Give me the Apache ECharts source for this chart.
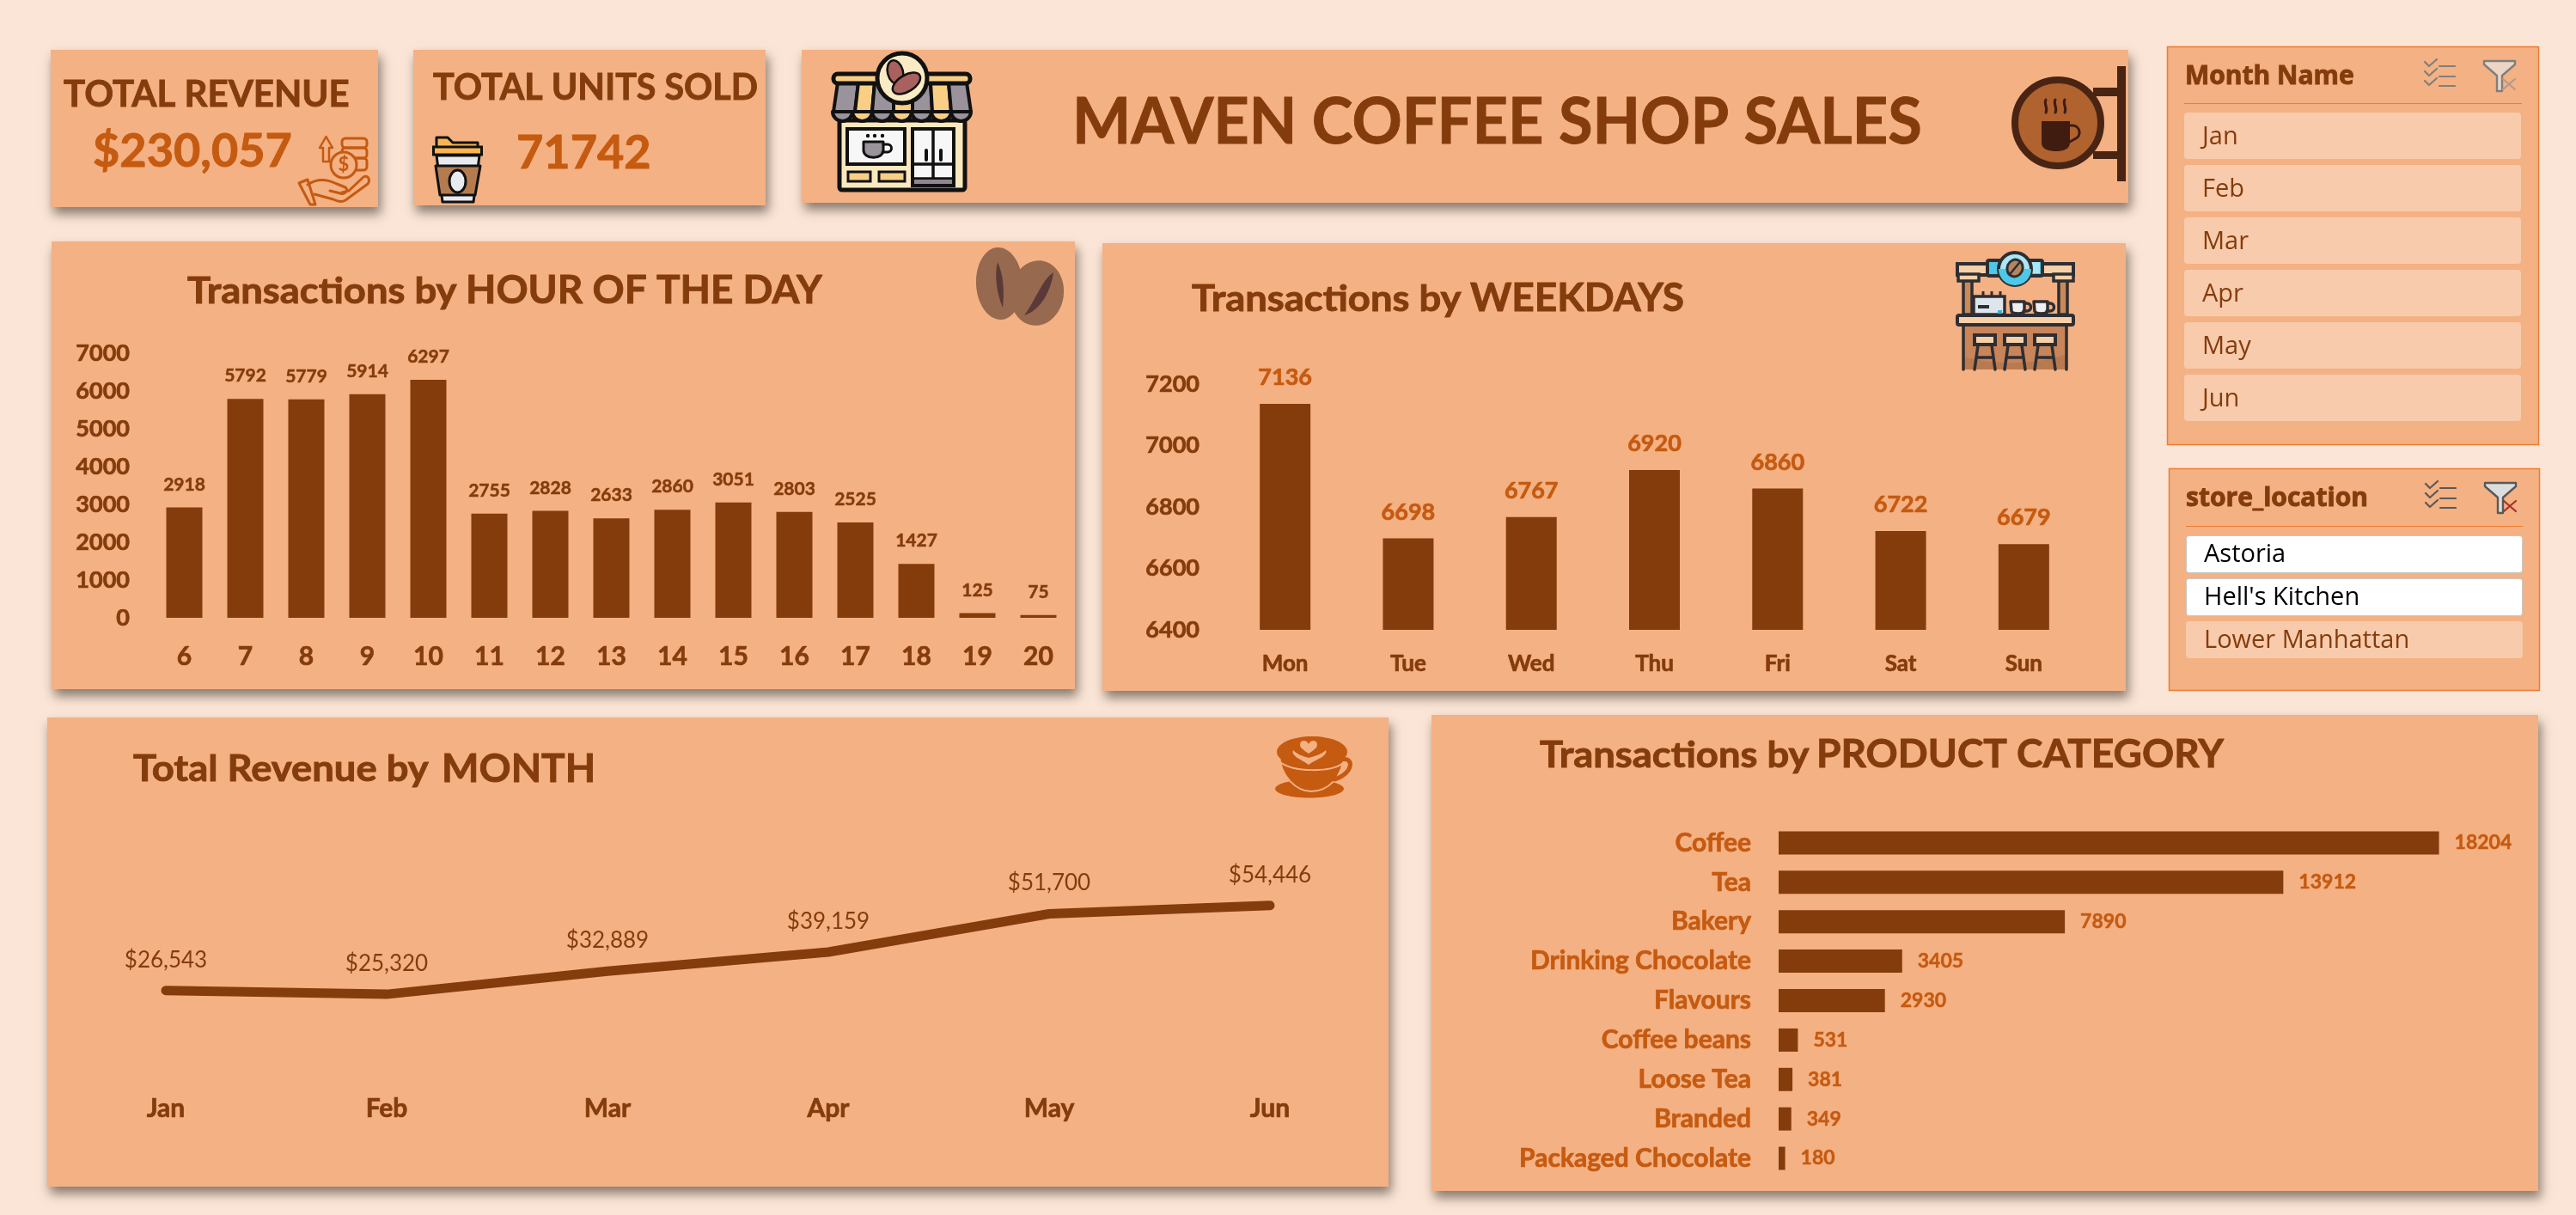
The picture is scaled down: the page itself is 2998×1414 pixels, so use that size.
<!DOCTYPE html>
<html><head><meta charset="utf-8">
<style>html,body{margin:0;padding:0;background:#FBE5D6}#c{width:2998px;height:1414px}</style>
<script src="https://cdn.jsdelivr.net/npm/echarts@6/dist/echarts.min.js"></script>
</head><body><div id="c"></div>
<script>
const hours=['6','7','8','9','10','11','12','13','14','15','16','17','18','19','20'];
const hourTx=[2918,5792,5779,5914,6297,2755,2828,2633,2860,3051,2803,2525,1427,125,75];
const weekdays=['Mon','Tue','Wed','Thu','Fri','Sat','Sun'];
const weekdayTx=[7136,6698,6767,6920,6860,6722,6679];
const months=['Jan','Feb','Mar','Apr','May','Jun'];
const monthRevenue=[26543,25320,32889,39159,51700,54446];
const products=['Coffee','Tea','Bakery','Drinking Chocolate','Flavours','Coffee beans','Loose Tea','Branded','Packaged Chocolate'];
const productTx=[18204,13912,7890,3405,2930,531,381,349,180];
const stores=['Astoria',"Hell's Kitchen",'Lower Manhattan'];
const storesSelected=[true,true,false];
const totalRevenue='$230,057';
const totalUnits='71742';

const BR='#843C0C',OR='#C55A11',PAN='#F4B183',F='Lato';
const g=[];
let pid=0;
function panel(x,y,w,h){g.push({type:'rect',z:0,shape:{x,y,width:w,height:h},style:{fill:PAN,shadowBlur:12,shadowColor:'rgba(60,50,40,0.6)',shadowOffsetX:3,shadowOffsetY:8}});}
function rect(x,y,w,h,fill,stroke,lw,r){g.push({type:'rect',z:1,shape:{x,y,width:w,height:h,r:r||0},style:{fill:fill||'none',stroke:stroke||'none',lineWidth:lw||0}});}
function p(d,fill,stroke,lw){const n='icon'+(pid++);echarts.graphic.registerShape(n,echarts.graphic.extendPath(d));g.push({type:n,z:1,style:{fill:fill||'none',stroke:stroke||'none',lineWidth:lw||0,lineJoin:'round',lineCap:'round'}});}
function circ(cx,cy,r,fill,stroke,lw){g.push({type:'circle',z:1,shape:{cx,cy,r},style:{fill:fill||'none',stroke:stroke||'none',lineWidth:lw||0}});}
function ell(cx,cy,rx,ry,rot,fill,stroke,lw){g.push({type:'ellipse',z:1,x:cx,y:cy,rotation:rot||0,shape:{cx:0,cy:0,rx,ry},style:{fill:fill||'none',stroke:stroke||'none',lineWidth:lw||0}});}
function txt(t,x,y,size,color,weight,font,align,sx){const w=weight||'bold';const st={text:t,fontFamily:font||F,fontSize:size,fontWeight:w,fill:color,textAlign:align||'left',textVerticalAlign:'middle'};if(w==='bold'&&size>=30){st.stroke=color;st.lineWidth=.9;}g.push({type:'text',z:2,x,y,scaleX:sx||1,style:st});}

// panels
panel(59,58,381,183);panel(481,58,410,181);panel(933,58,1544,178);
panel(60,281,1191,521);panel(1283,283,1191,521);panel(55,835,1561,546);panel(1666,832,1288,554);

// text
txt('TOTAL REVENUE',74,110,42,BR);
txt('TOTAL UNITS SOLD',504,102,42,BR,'bold',F,'left',.98);
txt(totalRevenue,108,177,54,OR);
txt(totalUnits,601,179,54,OR);
txt('MAVEN COFFEE SHOP SALES',1248,143,74,BR,'bold',F,'left',.975);
const S1=1.08;
txt('Transactions by',218,339,42,BR,'bold',F,'left',S1);txt('HOUR OF THE DAY',542,338,46,BR);
txt('Transactions by',1387,348,42,BR,'bold',F,'left',S1);txt('WEEKDAYS',1711,347,46,BR);
txt('Total Revenue by',155,895,42,BR,'bold',F,'left',S1);txt('MONTH',514,895,46,BR);
txt('Transactions by',1792,879,42,BR,'bold',F,'left',S1);txt('PRODUCT CATEGORY',2114,878,46,BR);

// slicers
function slicerIcons(dx,dy,c,fn,xc){
  [77,89,100].forEach(y=>p(`M${2839+dx},${y+dy}H${2857+dx}`,null,c,2.2));
  [72,83,94].forEach(y=>p(`M${2822+dx},${y+dy}l5,5l9,-8`,null,c,2.2));
  p(`M${2891+dx},${71+dy}H${2927+dx}V${75+dy}L${2912+dx},${88+dy}V${106+dy}H${2906+dx}V${88+dy}L${2891+dx},${75+dy}Z`,fn,c,2.4);
  p(`M${2913+dx},${92+dy}L${2927+dx},${104+dy}M${2927+dx},${92+dy}L${2913+dx},${104+dy}`,null,xc,2.2);
}
g.push({type:'rect',z:0,shape:{x:2522.5,y:54.5,width:432,height:463},style:{fill:PAN,stroke:'#ED7D31',lineWidth:1.5}});
txt('Month Name',2543,89,30,BR,'bold','Open Sans');
slicerIcons(0,0,'#7F7F7F','#EDD5C6','#B49A8C');
rect(2542,120,393,1,'#ED7D31');
const my=[131,192,253,314,375,436];
months.forEach((m,i)=>{rect(2542,my[i],392,54,'#F8CBAD',null,0,4);txt(m,2563,my[i]+29,29,BR,'normal','Open Sans');});
g.push({type:'rect',z:0,shape:{x:2524.5,y:545.5,width:431,height:258},style:{fill:PAN,stroke:'#ED7D31',lineWidth:1.5}});
txt('store_location',2544,580,30,BR,'bold','Open Sans');
slicerIcons(1,491,'#595959','#DDDDDD','#A5302C');
rect(2544,612,392,1,'#ED7D31');
const sy=[623,673,723];
stores.forEach((s,i)=>{
  if(storesSelected[i]){rect(2544.5,sy[i]+.5,391,43,'#FFFFFF','#C8C8C8',1,3);txt(s,2565,sy[i]+23,29,'#000000','normal','Open Sans');}
  else{rect(2544,sy[i],392,43,'#F8CBAD',null,0,4);txt(s,2565,sy[i]+23,29,BR,'normal','Open Sans');}
});

// icon: hand with coins
const hs=3;
p('M376,188V172H372L379.5,159L387,172H383V188Z',null,OR,hs-0.5);
rect(398,161,29,11,null,OR,hs,4);rect(398,172,29,12,null,OR,hs,4);rect(398,184,29,14,null,OR,hs,4);
circ(400,192,15,PAN,OR,hs);txt('$',400,192,22,OR,'bold',F,'center');
p('M348,213L358,209L367,238L361,238Z',null,OR,hs);
p('M358,215C368,208 380,208 392,214L402,218C406,221 402,227 396,225L384,222M398,224L406,222L423,206C429,203 431,210 428,214L402,233C397,236 392,234 388,232L366,226',null,OR,hs);

// icon: cup
const K='#111';
p('M508,172V160H521L527,166H556V172Z','#FBB54E',K,3);
rect(504.5,171,56,9,'#FBB54E',K,3);
p('M508,181H558L551,235H515Z','#E7EBEF',K,3);
p('M507,193H559L553,227H512Z','#B47C4E',K,3);
ell(532.5,211,9.5,13,0,'#E7EBEF',K,3);

// icon: store
rect(977,140,146,81,'#FBE8BE',K,5,3);
rect(986,150,67,41,'#F7F7F7',K,4);
rect(1062,150,48,66,'#F7F7F7',K,4);
p('M1086,150V208M1062,191H1110M1062,208H1110',null,K,3.5);
rect(1064,209,44,5,'#8F878F');
p('M1005,165h23v10a11,8 0 0 1 -23,0z','#9B939B',K,3);
p('M1028,168h5a4,4 0 0 1 0,9h-6',null,K,3);
[1010,1018,1027].forEach(x=>circ(x,158,2.2,K));
rect(987,200,26,11,'#F9CF85',K,3);rect(1023,200,30,11,'#F9CF85',K,3);
p('M1078,175V186M1095,175V186',null,K,4);
p('M975,96H999L995,130H970Z','#9B939B',K,4);
p('M999,96H1018L1015,130H995Z','#F9CF85',K,4);
p('M1018,96H1040V130H1015Z','#9B939B',K,4);
p('M1040,96H1062V130H1040Z','#F9CF85',K,4);
p('M1062,96H1083L1085,130H1062Z','#9B939B',K,4);
p('M1083,96H1104L1107,130H1085Z','#F9CF85',K,4);
p('M1104,96H1125L1130,130H1107Z','#9B939B',K,4);
[0,1,2,3,4,5,6].forEach(i=>{
  p(`M${969+i*23},130a11.5,11 0 0 0 23,0z`,i%2?'#F9CF85':'#9B939B',K,4);
});
rect(970,86,159,11,'#F9CF85',K,5,5);
circ(1050,91,29,'#FBEBC4',K,5);
ell(1042,84,9,14,0.25,'#A8615F',K,2.5);ell(1055,97,18,9.5,0.55,'#A8615F',K,2.5);

// icon: sign
rect(2464,77,10,134,'#4A2413');
rect(2436,102,30,10,'#4A2413');rect(2436,176,30,9,'#4A2413');
circ(2395,143,50,'#B0622F','#4A2413',8);
p('M2376,141H2409V166C2409,174 2400,176 2393,176C2385,176 2376,174 2376,166Z','#401C10');
p('M2409,146h3a8,8 0 0 1 4,15l-7,4',null,'#401C10',3);
['M2381,116c-3,5 3,9 0,15','M2392,116c-3,5 3,9 0,15','M2403,116c-3,5 3,9 0,15'].forEach(d=>p(d,null,'#401C10',3));

// icon: beans
ell(1163,330,27,42,0.05,'#97694F');
p('M1161,305C1157,320 1160,342 1167,358C1169,340 1168,320 1161,305Z','#5A3A38');
ell(1207,341,31,38,-0.15,'#97694F');
p('M1226,317C1213,325 1205,350 1192,367C1210,362 1223,340 1226,317Z','#5A3A38');

// icon: stall
const D='#2E2E33',CR='#F6D0A8';
rect(2285,379,120,51,'#C98559');
p('M2285,415C2320,425 2370,425 2405,412V430H2285Z','#BA7A50');
rect(2285,326,10,40,'#C98A5A',D,3.5);rect(2396,326,10,40,'#C98A5A',D,3.5);
rect(2278,307,135,13,CR,D,4);
rect(2279,319,24,8,CR,D,3.5);rect(2390,319,23,8,CR,D,3.5);
rect(2313,303,64,18,'#4CC9E8',D,4,2);
rect(2350,305,24,13,'#A9E7F5');
circ(2345,313,19,'#A9E7F5',D,4);
p('M2326,313A19,19 0 0 0 2364,313Z','#4CC9E8');
ell(2345,312,9,10,-0.4,'#B58560',D,3);
p('M2350,306L2340,318',null,D,2.5);
rect(2297,345,36,21,'#DDE6EC',D,3.5);
[2308,2318,2328].forEach(x=>rect(x-1.5,339,3,6,D));
rect(2302,355,13,4,D);rect(2325,361,5,5,'#34B6DD');
p('M2340,351H2356V362C2356,366 2342,366 2341,362Z','#EDEFF1',D,3.5);
p('M2356,353h3a4,4 0 0 1 0,9h-4',null,D,3.5);
p('M2367,351H2383V362C2383,366 2369,366 2368,362Z','#EDEFF1',D,3.5);
p('M2383,353h3a4,4 0 0 1 0,9h-4',null,D,3.5);
rect(2278,367,135,11,CR,D,4,2);
p('M2285,379V430M2405,379V430',null,D,3.5);
[2310,2345,2380].forEach(x=>{
  rect(x-12,390,24,11,CR,D,4);
  p(`M${x-8},402L${x-12},430M${x+8},402L${x+12},430M${x-9},416H${x+9}`,null,D,3.5);
});

// icon: latte
ell(1524,918,40,10.5,0,OR);
p('M1489,878C1490,905 1510,921 1526,921C1545,921 1563,905 1564,878Z',OR,PAN,2);
p('M1561,884C1576,880 1576,900 1553,907',null,OR,5);
ell(1527,875,41,18,0,OR);
p('M1490,887C1505,899 1550,899 1563,888',null,PAN,2);
p('M1523,866C1520,859 1510,862 1514,870C1517,873 1520,875 1523,877C1526,875 1529,873 1532,870C1536,862 1526,859 1523,866Z',PAN);
p('M1505,873C1502,880 1515,884 1523,890C1531,884 1546,880 1543,873C1538,878 1530,880 1523,882C1516,880 1510,878 1505,873Z',PAN);

const axLabel=(size,color,extra)=>Object.assign({fontFamily:F,fontSize:size,fontWeight:'bold',color,textBorderColor:color,textBorderWidth:.7},extra||{});
const none={show:false};
const plain=v=>String(v);
const option={
  animation:false,
  backgroundColor:'#FBE5D6',
  graphic:{elements:g},
  grid:[
    {left:179,top:411,width:1065,height:308},
    {left:1424,top:447,width:1003,height:286},
    {left:64.5,top:1034,width:1542,height:213},
    {left:2070,top:958,width:844.4,height:413}
  ],
  xAxis:[
    {gridIndex:0,type:'category',data:hours,axisLine:none,axisTick:none,axisLabel:axLabel(30,BR,{interval:0,margin:30})},
    {gridIndex:1,type:'category',data:weekdays,axisLine:none,axisTick:none,axisLabel:axLabel(26,BR,{interval:0,margin:27})},
    {gridIndex:2,type:'category',data:months,axisLine:none,axisTick:none,axisLabel:axLabel(30,BR,{interval:0,margin:28})},
    {gridIndex:3,type:'value',min:0,max:20000,show:false,splitLine:none}
  ],
  yAxis:[
    {gridIndex:0,type:'value',min:0,max:7000,interval:1000,axisLine:none,axisTick:none,splitLine:none,axisLabel:axLabel(27,BR,{margin:28,formatter:plain})},
    {gridIndex:1,type:'value',min:6400,max:7200,interval:200,axisLine:none,axisTick:none,splitLine:none,axisLabel:axLabel(27,BR,{margin:28,formatter:plain})},
    {gridIndex:2,type:'value',min:0,max:60000,show:false,splitLine:none},
    {gridIndex:3,type:'category',data:products,inverse:true,axisLine:none,axisTick:none,axisLabel:axLabel(30,OR,{interval:0,margin:32})}
  ],
  series:[
    {type:'bar',xAxisIndex:0,yAxisIndex:0,data:hourTx,barWidth:42,itemStyle:{color:BR},
     label:{show:true,position:'top',distance:16,fontFamily:F,fontSize:21,fontWeight:'bold',color:BR,textBorderColor:BR,textBorderWidth:.5}},
    {type:'bar',xAxisIndex:1,yAxisIndex:1,data:weekdayTx,barWidth:59,itemStyle:{color:BR},
     label:{show:true,position:'top',distance:17,fontFamily:F,fontSize:27,fontWeight:'bold',color:OR,textBorderColor:OR,textBorderWidth:.7}},
    {type:'line',xAxisIndex:2,yAxisIndex:2,data:monthRevenue,symbol:'circle',symbolSize:1,showSymbol:true,
     lineStyle:{color:BR,width:11,cap:'round',join:'round'},itemStyle:{color:BR},
     label:{show:true,position:'top',distance:22,fontFamily:F,fontSize:26,color:BR,formatter:v=>'$'+v.value.toLocaleString('en-US')}},
    {type:'bar',xAxisIndex:3,yAxisIndex:3,data:productTx,barWidth:27,itemStyle:{color:BR},
     label:{show:true,position:'right',distance:18,fontFamily:F,fontSize:23,fontWeight:'bold',color:OR,textBorderColor:OR,textBorderWidth:.5}}
  ]
};
const chart=echarts.init(document.getElementById('c'),null,{renderer:'canvas'});
chart.setOption(option);
</script></body></html>
